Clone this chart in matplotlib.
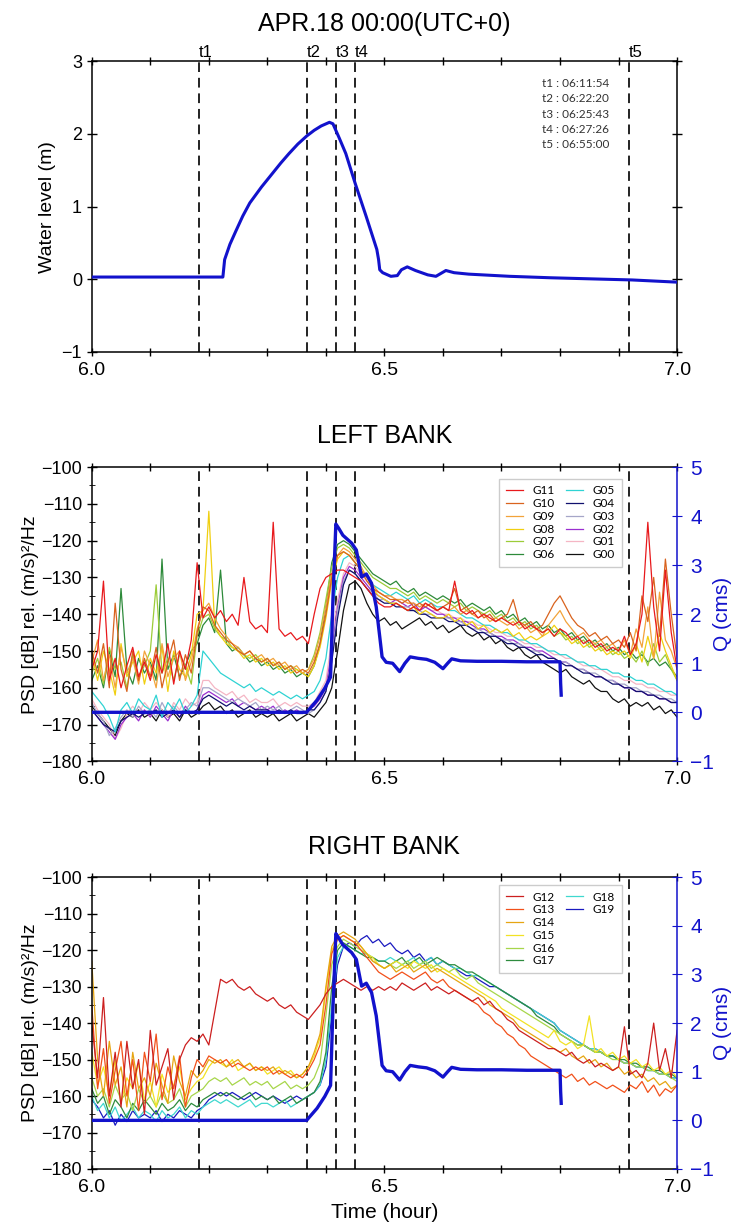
import numpy as np
import matplotlib
matplotlib.use("Agg")
import matplotlib.pyplot as plt
from matplotlib.lines import Line2D
from matplotlib.ticker import FixedLocator, FuncFormatter, MultipleLocator
import matplotlib.transforms as mtransforms

plt.rcParams['font.family'] = ['Liberation Sans', 'DejaVu Sans']

# ---- data -----------------------------------------------------------------
# event markers (hour) and their clock labels
event_names = ['t1', 't2', 't3', 't4', 't5']
event_times = [6.183, 6.368, 6.417, 6.450, 6.917]
event_clock = ['06:11:54', '06:22:20', '06:25:43', '06:27:26', '06:55:00']

# water level (m)
wl_t = [6.000, 6.100, 6.224, 6.227, 6.236, 6.246, 6.258, 6.270, 6.290, 6.309,
        6.323, 6.337, 6.352, 6.367, 6.380, 6.392, 6.406, 6.412, 6.423, 6.434,
        6.450, 6.469, 6.487, 6.490, 6.492, 6.497, 6.511, 6.522, 6.529, 6.539,
        6.553, 6.574, 6.588, 6.605, 6.619, 6.644, 6.714, 6.784, 6.853, 6.923,
        6.999]
wl_v = [0.03, 0.03, 0.03, 0.27, 0.48, 0.66, 0.87, 1.05, 1.27, 1.46,
        1.60, 1.73, 1.86, 1.97, 2.05, 2.11, 2.16, 2.14, 1.94, 1.73,
        1.32, 0.86, 0.41, 0.27, 0.13, 0.09, 0.04, 0.05, 0.13, 0.17,
        0.12, 0.06, 0.04, 0.12, 0.09, 0.07, 0.04, 0.02, 0.005, -0.01,
        -0.04]

# discharge Q (cms)
q_t = [6.000, 6.367, 6.385, 6.398, 6.408, 6.412, 6.417, 6.422, 6.429, 6.444,
       6.452, 6.461, 6.469, 6.478, 6.486, 6.492, 6.496, 6.503, 6.514, 6.526,
       6.535, 6.544, 6.558, 6.572, 6.586, 6.600, 6.608, 6.615, 6.630, 6.658,
       6.700, 6.743, 6.800, 6.801, 6.802]
q_v = [0.0, 0.0, 0.25, 0.49, 0.72, 2.3, 3.84, 3.75, 3.61, 3.45,
       3.31, 2.76, 2.82, 2.63, 2.15, 1.54, 1.13, 1.02, 1.00, 0.83,
       1.00, 1.13, 1.10, 1.08, 1.02, 0.89, 1.00, 1.09, 1.05, 1.04,
       1.04, 1.03, 1.03, 0.60, 0.35]

# PSD traces, one sample every 0.01 h from 6.00 to 7.00 (dB)
t_psd = np.linspace(6.0, 7.0, 101)

G11 = [-155, -150, -131, -158, -152, -160, -154, -149, -157, -153,
       -158, -151, -156, -148, -159, -150, -155, -147, -126, -141,
       -138, -141, -139, -142, -140, -143, -130, -142, -144, -143,
       -145, -115, -144, -146, -145, -147, -146, -148, -140, -133,
       -130, -129, -128, -128, -129, -130, -131, -133, -135, -137,
       -138, -138, -137, -138, -139, -138, -139, -137, -138, -139,
       -138, -139, -131, -139, -140, -139, -141, -140, -141, -142,
       -141, -142, -143, -142, -144, -143, -144, -145, -144, -146,
       -144, -145, -147, -146, -148, -147, -149, -148, -150, -149,
       -150, -146, -151, -148, -140, -115, -138, -150, -128, -145, -155]
G10 = [-150, -156, -148, -160, -137, -155, -161, -150, -158, -152,
       -157, -149, -160, -153, -147, -158, -151, -156, -145, -138,
       -139, -143, -145, -147, -148, -150, -151, -150, -152, -153,
       -152, -154, -153, -155, -154, -156, -155, -156, -153, -148,
       -140, -130, -124, -123, -124, -126, -128, -131, -133, -134,
       -135, -136, -136, -137, -136, -138, -137, -138, -137, -139,
       -138, -137, -133, -139, -138, -140, -139, -141, -140, -142,
       -141, -140, -136, -142, -143, -142, -144, -143, -140, -137,
       -135, -138, -141, -143, -144, -146, -145, -147, -146, -148,
       -147, -149, -145, -150, -135, -142, -130, -146, -125, -140, -152]
G09 = [-153, -147, -158, -151, -160, -149, -156, -152, -159, -150,
       -154, -160, -148, -157, -152, -150, -158, -153, -144, -139,
       -137, -141, -144, -146, -148, -149, -151, -150, -152, -151,
       -153, -152, -154, -153, -155, -154, -156, -155, -152, -146,
       -138, -129, -124, -122, -123, -125, -127, -130, -132, -134,
       -135, -135, -136, -136, -137, -137, -138, -137, -138, -139,
       -138, -139, -138, -140, -139, -140, -141, -140, -142, -141,
       -142, -143, -142, -144, -143, -145, -144, -146, -143, -141,
       -139, -142, -144, -146, -145, -147, -148, -147, -149, -148,
       -150, -147, -151, -144, -149, -138, -152, -134, -147, -150, -155]
G08 = [-151, -158, -150, -155, -162, -148, -157, -153, -150, -159,
       -152, -156, -149, -161, -150, -155, -157, -151, -140, -139,
       -112, -143, -146, -148, -149, -150, -152, -151, -153, -152,
       -154, -153, -155, -154, -156, -155, -156, -157, -154, -149,
       -141, -131, -125, -123, -124, -126, -128, -130, -133, -135,
       -136, -137, -137, -138, -139, -138, -140, -139, -140, -141,
       -141, -140, -142, -141, -143, -142, -144, -143, -145, -144,
       -145, -144, -146, -145, -147, -146, -147, -146, -145, -143,
       -145, -146, -148, -147, -149, -148, -150, -149, -151, -150,
       -151, -150, -152, -148, -153, -146, -152, -145, -150, -154, -158]
G07 = [-156, -152, -159, -149, -155, -153, -160, -151, -157, -154,
       -150, -132, -156, -152, -158, -151, -154, -159, -146, -141,
       -140, -144, -146, -147, -149, -150, -151, -152, -151, -153,
       -152, -154, -153, -155, -154, -155, -156, -155, -151, -145,
       -136, -127, -122, -121, -122, -124, -126, -128, -130, -131,
       -132, -133, -133, -134, -135, -134, -136, -135, -136, -137,
       -136, -137, -138, -137, -139, -138, -139, -140, -139, -141,
       -140, -142, -141, -143, -142, -144, -143, -145, -144, -146,
       -145, -147, -146, -148, -147, -149, -148, -150, -149, -151,
       -150, -152, -151, -153, -150, -154, -148, -153, -151, -155, -158]
G06 = [-158, -154, -160, -150, -157, -133, -155, -159, -152, -156,
       -153, -158, -125, -155, -151, -157, -154, -150, -148, -143,
       -141, -145, -128, -148, -150, -149, -151, -153, -152, -154,
       -153, -155, -154, -156, -155, -157, -156, -157, -154, -148,
       -138, -126, -121, -120, -121, -123, -125, -127, -129, -130,
       -131, -132, -131, -133, -134, -133, -135, -134, -135, -136,
       -135, -136, -137, -136, -138, -137, -138, -139, -138, -140,
       -139, -141, -140, -142, -141, -143, -142, -144, -143, -145,
       -144, -146, -145, -147, -146, -148, -147, -149, -148, -150,
       -149, -151, -150, -152, -151, -153, -152, -154, -153, -155, -157]
G05 = [-161, -163, -165, -168, -172, -166, -164, -167, -163, -165,
       -166, -162, -168, -164, -166, -163, -167, -165, -162, -150,
       -152, -154, -156, -157, -158, -159, -160, -159, -161, -160,
       -161, -162, -161, -162, -163, -162, -163, -162, -161, -158,
       -152, -140, -130, -125, -124, -126, -128, -130, -132, -133,
       -134, -135, -134, -135, -136, -135, -137, -136, -137, -138,
       -138, -139, -139, -140, -141, -141, -142, -143, -143, -144,
       -145, -145, -146, -147, -147, -148, -148, -149, -150, -150,
       -151, -151, -152, -153, -153, -154, -154, -155, -155, -156,
       -156, -157, -157, -158, -158, -159, -159, -160, -161, -161, -162]
G04 = [-166, -168, -170, -171, -172, -169, -168, -167, -168, -167,
       -167, -166, -168, -167, -166, -168, -166, -167, -166, -163,
       -162, -163, -164, -165, -164, -165, -166, -165, -166, -166,
       -166, -167, -166, -167, -166, -167, -167, -166, -166, -164,
       -161, -153, -141, -132, -128, -129, -131, -133, -135, -136,
       -137, -137, -138, -138, -139, -139, -140, -140, -141, -141,
       -141, -142, -142, -143, -143, -144, -145, -145, -146, -146,
       -147, -148, -148, -149, -149, -150, -151, -151, -152, -152,
       -153, -154, -154, -155, -156, -156, -157, -157, -158, -159,
       -159, -160, -160, -161, -161, -162, -162, -163, -163, -164, -164]
G03 = [-164, -167, -169, -173, -171, -168, -166, -168, -165, -167,
       -166, -168, -164, -167, -165, -167, -166, -164, -165, -160,
       -160, -161, -162, -163, -164, -163, -164, -165, -164, -166,
       -165, -166, -165, -167, -166, -165, -166, -167, -166, -164,
       -161, -152, -139, -131, -128, -129, -131, -133, -134, -136,
       -136, -137, -137, -138, -138, -139, -139, -140, -140, -141,
       -141, -141, -142, -142, -143, -144, -144, -145, -145, -146,
       -147, -147, -148, -148, -149, -150, -150, -151, -152, -152,
       -153, -153, -154, -155, -155, -156, -156, -157, -158, -158,
       -159, -159, -160, -160, -161, -161, -162, -162, -163, -163, -164]
G02 = [-166, -168, -170, -172, -174, -170, -168, -167, -169, -166,
       -168, -165, -167, -169, -166, -168, -165, -167, -166, -162,
       -161, -162, -163, -164, -163, -165, -164, -165, -166, -165,
       -166, -165, -167, -166, -167, -166, -167, -166, -165, -163,
       -160, -150, -138, -130, -127, -128, -130, -132, -134, -135,
       -136, -137, -136, -137, -138, -137, -139, -138, -139, -140,
       -140, -141, -141, -142, -142, -143, -144, -144, -145, -146,
       -146, -147, -147, -148, -149, -149, -150, -150, -151, -152,
       -153, -153, -154, -155, -155, -156, -157, -157, -158, -158,
       -159, -160, -160, -161, -161, -162, -162, -163, -163, -164, -164]
G01 = [-163, -166, -168, -170, -174, -171, -167, -165, -167, -164,
       -166, -164, -166, -168, -164, -166, -163, -165, -164, -158,
       -158, -160, -161, -162, -161, -163, -162, -164, -163, -164,
       -164, -163, -165, -164, -165, -164, -165, -165, -164, -161,
       -158, -147, -136, -129, -126, -127, -129, -131, -133, -134,
       -135, -135, -136, -136, -137, -137, -138, -138, -139, -139,
       -140, -140, -141, -141, -142, -142, -143, -143, -144, -145,
       -145, -146, -146, -147, -148, -148, -149, -149, -150, -151,
       -151, -152, -152, -153, -154, -154, -155, -155, -156, -157,
       -157, -158, -158, -159, -159, -160, -160, -161, -161, -162, -162]
G00 = [-165, -167, -169, -171, -173, -169, -167, -168, -166, -168,
       -167, -169, -166, -168, -167, -169, -166, -168, -167, -165,
       -164, -166, -165, -167, -166, -168, -167, -166, -168, -167,
       -168, -167, -169, -168, -167, -169, -168, -167, -168, -166,
       -164, -160, -150, -139, -132, -131, -133, -137, -140, -142,
       -141, -143, -142, -144, -143, -142, -141, -143, -142, -144,
       -143, -145, -144, -143, -145, -146, -145, -147, -146, -148,
       -147, -149, -150, -149, -151, -152, -151, -153, -154, -155,
       -156, -155, -157, -158, -159, -158, -160, -161, -161, -163,
       -164, -163, -165, -164, -165, -164, -166, -165, -167, -166, -168]

G12 = [-140, -155, -133, -160, -148, -163, -145, -158, -150, -165,
       -142, -157, -152, -147, -161, -150, -146, -144, -145, -143,
       -146, -137, -128, -129, -128, -130, -131, -130, -132, -133,
       -134, -133, -135, -136, -135, -137, -138, -139, -137, -135,
       -132, -130, -129, -128, -129, -130, -131, -130, -131, -130,
       -131, -130, -131, -129, -130, -131, -130, -129, -131, -130,
       -131, -132, -131, -132, -133, -134, -133, -135, -134, -136,
       -137, -139, -140, -142, -143, -144, -145, -146, -147, -147,
       -148, -149, -148, -150, -151, -150, -152, -151, -152, -153,
       -152, -141, -154, -153, -155, -151, -140, -153, -147, -155, -142]
G13 = [-135, -158, -147, -162, -153, -145, -160, -150, -164, -148,
       -156, -143, -161, -152, -158, -149, -163, -155, -150, -152,
       -149, -150, -151, -150, -152, -151, -152, -153, -152, -153,
       -152, -154, -153, -154, -155, -154, -155, -153, -150, -146,
       -135, -121, -117, -116, -117, -118, -120, -122, -124, -126,
       -127, -128, -127, -126, -127, -128, -127, -126, -128, -129,
       -128, -130, -131, -132, -133, -134, -135, -137, -138, -140,
       -141, -143, -144, -146, -147, -149, -150, -151, -152, -153,
       -154, -155, -154, -156, -155, -157, -156, -157, -158, -157,
       -158, -159, -157, -158, -156, -159, -157, -160, -158, -159, -157]
G14 = [-123, -150, -160, -145, -157, -152, -163, -148, -158, -155,
       -160, -151, -157, -162, -149, -156, -160, -153, -155, -153,
       -150, -151, -150, -152, -151, -150, -152, -151, -153, -152,
       -153, -152, -154, -153, -154, -155, -154, -152, -148, -143,
       -130, -119, -116, -115, -116, -117, -119, -121, -123, -124,
       -125, -124, -126, -125, -124, -126, -125, -124, -126, -125,
       -126, -127, -128, -129, -130, -131, -132, -133, -135, -136,
       -137, -138, -139, -141, -142, -143, -144, -145, -146, -147,
       -148, -147, -149, -150, -149, -151, -150, -152, -151, -153,
       -152, -154, -153, -155, -154, -156, -155, -157, -156, -158, -157]
G15 = [-148, -157, -152, -160, -150, -162, -155, -158, -151, -161,
       -156, -163, -154, -159, -157, -152, -161, -158, -156, -155,
       -152, -150, -151, -152, -150, -153, -152, -151, -153, -152,
       -154, -153, -152, -154, -153, -155, -154, -152, -149, -144,
       -131, -120, -117, -116, -117, -118, -119, -121, -122, -124,
       -125, -124, -123, -124, -125, -123, -124, -125, -124, -126,
       -125, -126, -127, -128, -129, -130, -131, -132, -133, -134,
       -136, -137, -138, -139, -140, -141, -142, -143, -144, -142,
       -145, -146, -145, -147, -146, -138, -148, -147, -149, -148,
       -150, -149, -151, -150, -152, -151, -153, -152, -154, -153, -155]
G16 = [-155, -160, -158, -163, -157, -161, -159, -164, -158, -162,
       -160, -163, -159, -162, -161, -158, -163, -160, -159, -158,
       -156, -155, -156, -155, -157, -156, -155, -157, -156, -157,
       -156, -158, -157, -156, -158, -157, -158, -157, -155, -151,
       -138, -124, -119, -117, -118, -119, -120, -121, -123, -124,
       -125, -124, -125, -124, -123, -125, -124, -123, -125, -124,
       -125, -126, -125, -127, -128, -127, -129, -130, -131, -132,
       -133, -134, -135, -136, -137, -138, -139, -140, -141, -142,
       -143, -144, -145, -146, -146, -147, -148, -148, -149, -150,
       -150, -151, -151, -152, -152, -153, -153, -154, -154, -155, -156]
G17 = [-158, -162, -160, -165, -161, -163, -166, -162, -164, -161,
       -163, -165, -162, -164, -163, -161, -164, -162, -163, -161,
       -160, -159, -160, -159, -160, -161, -160, -159, -161, -160,
       -161, -160, -162, -161, -160, -162, -161, -160, -159, -156,
       -148, -130, -120, -118, -119, -120, -121, -122, -122, -123,
       -123, -124, -123, -122, -124, -123, -122, -124, -123, -122,
       -123, -124, -124, -125, -126, -126, -127, -128, -129, -130,
       -131, -132, -133, -134, -135, -136, -138, -139, -140, -141,
       -143, -144, -145, -146, -146, -147, -148, -148, -149, -149,
       -150, -150, -151, -151, -152, -152, -153, -153, -154, -154, -155]
G18 = [-160, -164, -162, -166, -163, -167, -165, -163, -166, -164,
       -165, -167, -164, -166, -165, -163, -166, -164, -165, -163,
       -162, -161, -162, -161, -162, -163, -162, -161, -163, -162,
       -162, -163, -162, -161, -163, -162, -161, -160, -159, -157,
       -150, -135, -122, -119, -119, -120, -121, -121, -122, -123,
       -123, -122, -123, -124, -123, -122, -124, -123, -122, -124,
       -123, -124, -125, -125, -126, -127, -127, -128, -129, -130,
       -131, -132, -133, -134, -135, -136, -137, -138, -139, -140,
       -142, -143, -144, -145, -146, -147, -147, -148, -149, -149,
       -150, -151, -151, -152, -152, -153, -153, -154, -154, -155, -155]
G19 = [-161, -163, -166, -164, -168, -165, -167, -164, -166, -165,
       -166, -164, -167, -165, -166, -164, -165, -166, -164, -163,
       -161, -160, -159, -160, -159, -160, -161, -160, -159, -160,
       -161, -160, -161, -162, -161, -160, -161, -160, -159, -157,
       -152, -138, -124, -119, -118, -119, -117, -116, -118, -117,
       -119, -118, -120, -121, -120, -122, -121, -123, -122, -124,
       -123, -124, -125, -126, -127, -127, -128, -129, -130, -130,
       -131, -132, -133, -134, -135, -136, -137, -138, -139, -140,
       -142, -143, -144, -145, -146, -147, -147, -148, -149, -149,
       -150, -151, -151, -152, -152, -153, -153, -154, -154, -155, -155]

left_names = ['G11', 'G10', 'G09', 'G08', 'G07', 'G06',
              'G05', 'G04', 'G03', 'G02', 'G01', 'G00']
left_traces = [G11, G10, G09, G08, G07, G06, G05, G04, G03, G02, G01, G00]
left_colors = ['#e8191c', '#d9631e', '#f2a33a', '#f0cf10', '#9ccc38', '#2d8a3a',
               '#2fd3d3', '#10106e', '#a6a6c8', '#9a2fd0', '#f5b6c4', '#111111']

right_names = ['G12', 'G13', 'G14', 'G15', 'G16', 'G17', 'G18', 'G19']
right_traces = [G12, G13, G14, G15, G16, G17, G18, G19]
right_colors = ['#cc1f1f', '#f2501a', '#e6a512', '#f2e224', '#a7d64a', '#2e8b3e',
                '#3fd8cf', '#1a1ac0']

Q_COLOR = '#1212cc'
LEG_FONT = {'family': ['Lato', 'DejaVu Sans'], 'size': 8.5}


# ---- helpers --------------------------------------------------------------
def time_axis(ax):
    ax.set_xlim(6.0, 7.0)
    ax.xaxis.set_major_locator(FixedLocator([6.0 + 0.1 * k for k in range(11)]))
    ax.xaxis.set_major_formatter(FuncFormatter(
        lambda v, p: ('%.1f' % v) if abs(v * 2 - round(v * 2)) < 1e-6 else ''))
    ax.tick_params(axis='x', top=True, direction='inout', length=6, width=1,
                   labelsize=14, pad=4)
    ax.tick_params(axis='y', direction='inout', length=7, width=1, labelsize=13)
    for sp in ax.spines.values():
        sp.set_linewidth(1.1)
    for t in event_times:
        ax.axvline(t, color='#222222', lw=1.4, ls=(0, (5, 3)), zorder=1)


def psd_panel(ax, traces, colors, names, title):
    lines = []
    for tr, c, n in zip(traces, colors, names):
        ln, = ax.plot(t_psd, tr, color=c, lw=0.9, label=n, zorder=2)
        lines.append(ln)
    ax.set_ylim(-180, -100)
    ax.yaxis.set_major_locator(MultipleLocator(10))
    ax.yaxis.set_minor_locator(MultipleLocator(5))
    ax.tick_params(axis='y', which='minor', direction='inout', length=4)
    ax.set_ylabel('PSD [dB] rel. (m/s)²/Hz', fontsize=14, labelpad=2)
    ax.set_title(title, fontsize=18, pad=17)
    time_axis(ax)
    ax.spines['right'].set_visible(False)

    axq = ax.twinx()
    axq.plot(q_t, q_v, color=Q_COLOR, lw=2.4, zorder=5)
    axq.set_ylim(-1, 5)
    axq.yaxis.set_major_locator(MultipleLocator(1))
    axq.spines['right'].set_color(Q_COLOR)
    axq.spines['right'].set_linewidth(1.1)
    axq.spines['left'].set_visible(False)
    axq.spines['top'].set_visible(False)
    axq.spines['bottom'].set_visible(False)
    axq.tick_params(axis='y', colors=Q_COLOR, direction='inout', length=7,
                    labelsize=15, pad=6)
    axq.set_ylabel('Q (cms)', color=Q_COLOR, fontsize=15, labelpad=-1)
    return lines, axq


def bank_legend(ax, handles, labels, top):
    ax.legend(handles, labels, ncol=2, loc='upper left', bbox_to_anchor=(0.696, top),
              prop=LEG_FONT, fancybox=False, edgecolor='#cccccc', framealpha=1,
              handlelength=1.5, handletextpad=0.8, columnspacing=0.9,
              labelspacing=0.15, borderpad=0.55, borderaxespad=0)


# ---- figure ---------------------------------------------------------------
fig = plt.figure(figsize=(7.4, 12.26), dpi=100)
ax1 = fig.add_axes([0.124, 0.713, 0.791, 0.237])
ax2 = fig.add_axes([0.124, 0.379, 0.791, 0.240])
ax3 = fig.add_axes([0.124, 0.0465, 0.791, 0.238])

# top: water level
ax1.plot(wl_t, wl_v, color=Q_COLOR, lw=2.2, zorder=3)
ax1.set_ylim(-1, 3)
ax1.yaxis.set_major_locator(MultipleLocator(1))
ax1.tick_params(axis='y', right=True)
time_axis(ax1)
ax1.set_ylabel('Water level (m)', fontsize=14, labelpad=4)
ax1.set_title('APR.18 00:00(UTC+0)', fontsize=18, pad=22)

top_tr = mtransforms.blended_transform_factory(ax1.transData, ax1.transAxes)
for name, t in zip(event_names, event_times):
    ax1.text(t, 1.003, name, transform=top_tr, ha='left', va='bottom', fontsize=12)
for k, (name, clk) in enumerate(zip(event_names, event_clock)):
    ax1.text(0.77, 0.924 - 0.053 * k, name + ' : ' + clk, transform=ax1.transAxes,
             fontsize=8.5, family=['Lato', 'DejaVu Sans'], va='center', color='#333333')

# middle: left bank (draw G00 first so the red trace ends on top)
lines_l, _ = psd_panel(ax2, left_traces[::-1], left_colors[::-1], left_names[::-1],
                       'LEFT BANK')
bank_legend(ax2, lines_l[::-1], left_names, 0.96)

# bottom: right bank
lines_r, _ = psd_panel(ax3, right_traces[::-1], right_colors[::-1], right_names[::-1],
                       'RIGHT BANK')
# pad the second column so G12..G17 stack in the first one
blank = [Line2D([], [], color='none') for _ in range(4)]
bank_legend(ax3, lines_r[::-1] + blank, right_names + [''] * 4, 0.973)
ax3.set_xlabel('Time (hour)', fontsize=15, labelpad=5)

fig.savefig('out.png', dpi=100, facecolor='white')
